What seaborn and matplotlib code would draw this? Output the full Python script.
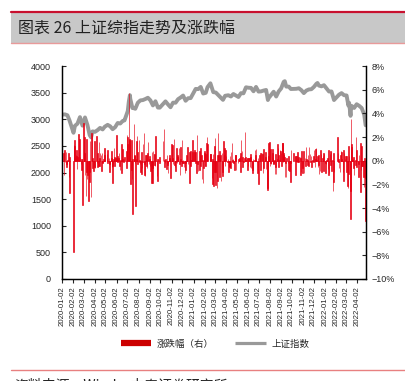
import pandas as pd
import matplotlib
matplotlib.use('Agg')
import matplotlib.pyplot as plt
from matplotlib.patches import Rectangle
from matplotlib.lines import Line2D
import seaborn as sns

# Shanghai Composite close
idx_dates = [
    '2020-01-02', '2020-01-10', '2020-01-17', '2020-01-23', '2020-02-03', '2020-02-07', '2020-02-14',
    '2020-02-21', '2020-02-28', '2020-03-06', '2020-03-13', '2020-03-19', '2020-03-23', '2020-03-27',
    '2020-04-03', '2020-04-10', '2020-04-17', '2020-04-24', '2020-04-30', '2020-05-08', '2020-05-15',
    '2020-05-22', '2020-05-29', '2020-06-05', '2020-06-12', '2020-06-19', '2020-06-24', '2020-07-03',
    '2020-07-06', '2020-07-09', '2020-07-10', '2020-07-16', '2020-07-17', '2020-07-24', '2020-07-31',
    '2020-08-07', '2020-08-14', '2020-08-21', '2020-08-28', '2020-09-04', '2020-09-11', '2020-09-18',
    '2020-09-25', '2020-09-30', '2020-10-16', '2020-10-23', '2020-10-30', '2020-11-06', '2020-11-13',
    '2020-11-20', '2020-11-27', '2020-12-04', '2020-12-11', '2020-12-18', '2020-12-25', '2020-12-31',
    '2021-01-08', '2021-01-15', '2021-01-22', '2021-01-29', '2021-02-05', '2021-02-10', '2021-02-18',
    '2021-02-26', '2021-03-05', '2021-03-12', '2021-03-19', '2021-03-25', '2021-03-31', '2021-04-09',
    '2021-04-16', '2021-04-23', '2021-04-30', '2021-05-07', '2021-05-14', '2021-05-21', '2021-05-28',
    '2021-06-04', '2021-06-11', '2021-06-18', '2021-06-25', '2021-07-02', '2021-07-09', '2021-07-16',
    '2021-07-23', '2021-07-28', '2021-07-30', '2021-08-06', '2021-08-13', '2021-08-20', '2021-08-27',
    '2021-09-03', '2021-09-10', '2021-09-13', '2021-09-17', '2021-09-24', '2021-09-30', '2021-10-15',
    '2021-10-22', '2021-10-29', '2021-11-05', '2021-11-12', '2021-11-19', '2021-11-26', '2021-12-03',
    '2021-12-10', '2021-12-13', '2021-12-17', '2021-12-24', '2021-12-31', '2022-01-07', '2022-01-14',
    '2022-01-21', '2022-01-28', '2022-02-11', '2022-02-18', '2022-02-25', '2022-03-04', '2022-03-09',
    '2022-03-11', '2022-03-15', '2022-03-16', '2022-03-18', '2022-03-25', '2022-04-01', '2022-04-08',
    '2022-04-15', '2022-04-22', '2022-04-25', '2022-04-26',
]
idx_close = [
    3085, 3092, 3075, 2976, 2746, 2876, 2917, 3040, 2880, 3034, 2887, 2702, 2660, 2772,
    2764, 2796, 2838, 2809, 2860, 2895, 2868, 2813, 2852, 2930, 2920, 2968, 2979, 3153,
    3332, 3451, 3384, 3210, 3214, 3197, 3310, 3354, 3360, 3380, 3404, 3355, 3260, 3338,
    3219, 3218, 3336, 3278, 3225, 3312, 3310, 3377, 3408, 3445, 3347, 3395, 3397, 3473,
    3570, 3566, 3607, 3483, 3496, 3603, 3675, 3509, 3502, 3453, 3405, 3364, 3441, 3451,
    3427, 3474, 3447, 3418, 3490, 3487, 3600, 3592, 3589, 3525, 3607, 3519, 3524, 3539,
    3550, 3361, 3397, 3458, 3517, 3427, 3522, 3581, 3703, 3715, 3613, 3613, 3568, 3572,
    3582, 3547, 3491, 3539, 3560, 3564, 3607, 3666, 3681, 3632, 3618, 3640, 3580, 3521,
    3522, 3361, 3462, 3491, 3451, 3447, 3256, 3309, 3064, 3171, 3251, 3212, 3282, 3252,
    3211, 3087, 2928, 2886,
]

# daily change in %, one list per year
chg_2020 = [
    1.15, -0.05, -0.01, 0.69, -1.22, 0.91, -0.08, 0.75, -0.28, -0.53, -0.03, 0.02, 0.66, -1.41, 0.33, -2.75,
    -7.72, 1.34, 1.25, 1.72, 0.33, 0.49, 0.39, 0.87, -0.71, 0.28, 2.28, 0.05, -0.05, 1.84, 0.31, -0.28, 0.11, -0.83, 0.11, -3.71,
    3.15, 0.75, 0.63, 1.99, -1.21, -3.01, 1.82, -0.94, -1.52, -1.23, -3.40, -0.34, -1.83, -0.98, 1.65, -3.11, 2.34, 2.17, -0.60, 0.25, -0.89, -0.10,
    -0.57, 1.69, -0.60, 2.05, -0.19, 0.61, -0.54, -0.49, 1.59, -0.48, 0.21, 0.66, 0.50, -0.90, 0.62, -0.15, -0.21, 0.13, 0.10, 0.46, 1.05,
    0.57, -0.23, 0.94, -0.05, 0.24, -0.30, -0.96, -0.07, 0.21, 0.80, -0.51, -0.48, -1.89, 0.10, 1.10, -0.41, 0.33, 0.22,
    2.21, 0.20, -0.07, -0.13, 0.40, 0.24, 0.62, -0.42, -0.78, 0.03, -1.02, 1.44, 0.14, 0.14, 0.96, -0.11, 0.17, 0.30, -0.64, 0.78,
    2.13, 2.01, 1.37, 5.71, 1.83, 1.74, 1.39, -1.95, 1.77, -0.83, -1.56, -4.50, 0.13, 3.11, 0.46, 0.42, -0.23, -3.86, 0.17, 1.66, 2.06, -0.24, 0.71,
    1.75, 0.06, -0.12, -0.26, -0.96, 0.75, -1.15, -0.60, -0.15, 1.40, 2.34, -0.27, -1.24, -1.27, 0.50, 0.44, -0.45, -0.66, 0.61, 1.60, -0.24,
    0.43, 0.12, -0.43, -0.88, -1.87, 0.73, -1.86, -0.61, 0.79, 0.56, 0.53, -0.36, -0.41, 2.07, -0.06, -1.29, 0.17, -1.72, 0.17, 0.06, 0.29, -0.20,
    1.68, 2.64, 0.04, -0.56, -0.19, 0.11, -0.71, 0.47, -0.23, -0.37, -1.04, 0.11, 0.47, 0.19, 0.12, -1.47,
    1.42, 0.19, 0.19, 1.30, -0.24, 1.86, -0.40, -0.53, -0.10, -0.86, 1.11, -0.21, 0.27, 0.47, 0.36, 1.09, -0.31, -1.19, 0.18, 1.14, -0.49,
    1.77, -0.21, -0.18, 0.07, -0.52, -0.19, -1.08, -0.20, -0.77, 0.49, 0.06, -0.04, 1.13, -0.29, 0.77, -1.86, 0.74, -0.45, 0.81, 0.08, -0.05, 0.74, 1.72,
]
chg_2021 = [
    0.86, 0.73, 0.63, 0.71, -0.17, -1.08, 2.18, -0.27, -0.91, 0.01, 0.82, -0.83, 0.47, 1.07, -0.41, 0.48, -1.51, 0.07, -1.91, -0.63,
    0.64, 0.82, -0.46, -0.44, 0.55, 1.49, 1.99, 1.43, 0.57, 0.57, -1.45, 0.16, -1.99, 0.59, -2.12,
    1.21, -0.93, 1.95, -2.05, -0.96, -2.30, -1.76, 0.50, 2.36, 0.46, -1.42, 0.83, 0.35, 0.51, -1.69, 0.68, -0.93, -1.30, -0.04, 1.63, 0.45, 1.11, -0.43,
    0.86, 0.37, -0.01, -0.10, 0.11, -0.92, -0.50, -0.47, 0.38, -0.65, 0.75, 1.49, -0.13, 0.04, 0.18, -0.21, -0.83, 0.28, 0.44, 0.52, -0.81,
    -0.16, 0.16, 0.26, 0.42, 0.61, -0.96, 1.77, 0.78, 0.34, -0.51, -0.13, -0.09, 0.19, 2.40, 0.29, 0.03, 0.07, 0.26,
    0.26, -0.76, -0.41, 0.21, 0.21, -0.54, 0.32, 0.54, -0.58, -0.83, -1.07, 0.10, -0.01, 0.04, 0.92, 0.49, 0.05, 0.95, -0.08, -1.07, 0.22,
    -0.02, -1.95, 0.44, -0.06, 0.67, -0.79, 0.67, 0.67, 0.53, -1.07, 1.02, -0.60, -0.01, -0.07, 0.72, 0.27, -0.71, -2.34, -2.49, -0.58, 1.49, 0.42,
    1.57, -0.47, 0.97, -0.20, -0.30, 1.00, 0.65, 0.23, -0.28, -0.18, 0.07, -1.11, 0.54, -0.57, -1.10, 1.45, 0.12, 1.06, -0.57, 0.49, 0.02, 0.92,
    0.84, 0.69, -0.42, 1.49, 1.51, -0.08, 0.51, 0.63, 0.28, -1.42, -0.17, -1.34, 0.19, -0.17, 0.40, -0.80, -0.84, -1.83, -0.18, 0.90,
    0.67, 0.40, -1.25, 0.42, -0.10, 0.40, -0.10, 0.71, 0.22, -0.08, 0.29, 0.30, 0.19, -1.23, -0.97, 0.82,
    -0.66, -1.08, -0.20, 0.81, -1.00, 0.20, -0.04, -0.41, 1.15, 0.18, 0.07, -0.33, 0.44, -0.47, 1.13, 0.57, -0.10, -0.07, 0.40, -0.56, -0.04, 0.03,
    0.37, -0.09, 0.89, -0.50, 0.16, 0.99, 1.03, 0.08, 0.40, -0.51, -0.39, 0.48, -1.16, -0.91, 0.92, -0.07, 0.57, -0.92, 0.20, 0.41, -0.91, 0.62, 0.57,
]
chg_2022 = [
    -0.20, -1.02, -0.25, 0.08, 0.24, -0.73, 0.94, -1.17, -1.04, 0.58, 0.80, -0.33, 0.77, -0.91, 0.04, -2.58, 0.66, -1.78, -0.97,
    2.02, 0.68, -0.08, 0.17, -0.66, -0.98, 0.50, 0.79, 0.14, 0.70, -0.02, -0.96, 0.88, -1.70, 0.63, 0.18,
    0.37, -0.13, 0.42, -0.96, -2.17, -2.35, -1.13, 1.22, 0.41, -2.60, -4.95, 3.48, 1.40, 1.12, 0.08, 0.18, 0.34, -0.63, -1.20, 0.08, -0.33, 1.96, -0.51,
    0.94, -0.28, -1.42, 0.47, -2.61, 1.46, -0.82, 1.22, -0.45, -0.49, -0.05, -1.35, -2.26, 0.23, -5.13, -1.44, 2.49,
]

# exchange holidays on weekdays
holidays = [
    '2020-01-24', '2020-01-27', '2020-01-28', '2020-01-29', '2020-01-30', '2020-01-31',
    '2020-04-06', '2020-05-01', '2020-05-04', '2020-05-05', '2020-06-25', '2020-06-26',
    '2020-10-01', '2020-10-02', '2020-10-05', '2020-10-06', '2020-10-07', '2020-10-08',
    '2021-01-01', '2021-02-11', '2021-02-12', '2021-02-15', '2021-02-16', '2021-02-17',
    '2021-04-05', '2021-05-03', '2021-05-04', '2021-05-05', '2021-06-14', '2021-09-20',
    '2021-09-21', '2021-10-01', '2021-10-04', '2021-10-05', '2021-10-06', '2021-10-07',
    '2022-01-03', '2022-01-31', '2022-02-01', '2022-02-02', '2022-02-03', '2022-02-04',
    '2022-04-04', '2022-04-05',
]

tick_labels = [f'{y}-{m:02d}-02' for y in (2020, 2021, 2022) for m in range(1, 13)][:28]

days = pd.bdate_range('2020-01-02', '2022-04-27')
days = days[~days.isin(pd.to_datetime(holidays))]
parts = []
for year, chg in ((2020, chg_2020), (2021, chg_2021), (2022, chg_2022)):
    d = days[days.year == year]
    n = min(len(d), len(chg))
    parts.append(pd.DataFrame({'date': d[:n], 'chg': chg[:n]}))
bars = pd.concat(parts, ignore_index=True)
line = pd.DataFrame({'date': pd.to_datetime(idx_dates), 'close': idx_close})

sns.set_style('white')
plt.rcParams['font.family'] = ['Liberation Sans', 'Noto Sans CJK SC', 'DejaVu Sans']
cjk = ['Noto Sans CJK SC', 'DejaVu Sans']

fig = plt.figure(figsize=(4.06, 3.81), dpi=100)
ax = fig.add_axes([62 / 406, 1 - 279 / 381, 304 / 406, 213 / 381])
ax2 = ax.twinx()

sns.lineplot(data=line, x='date', y='close', ax=ax, color='#999999', linewidth=2.8)
ax2.bar(bars['date'], bars['chg'], width=1.8, color='#e60012', linewidth=0.45, edgecolor='#e60012')

ax.set_ylim(0, 4000)
ax.set_yticks(range(0, 4001, 500))
ax2.set_ylim(-10, 8)
ax2.set_yticks(range(-10, 9, 2))
ax2.set_yticklabels([f'{v}%'.replace('-', '\u2212') for v in range(-10, 9, 2)])
ax.set_xlim(pd.Timestamp('2020-01-02'), pd.Timestamp('2022-04-27'))
ax.set_xticks(pd.to_datetime(tick_labels))
ax.set_xticklabels(tick_labels, rotation=90)
ax.set_xlabel('')
ax.set_ylabel('')

for a in (ax, ax2):
    for s in a.spines.values():
        s.set_color('black')
        s.set_linewidth(0.9)
    a.spines['top'].set_visible(False)
ax.tick_params(axis='y', direction='in', length=3, width=0.8, labelsize=6.5, pad=8, left=True)
ax.tick_params(axis='x', direction='out', length=3, width=0.8, labelsize=5.6, pad=2, bottom=True)
ax2.tick_params(axis='y', direction='in', length=3, width=0.8, labelsize=6.5, pad=4, right=True)

# title band
fig.patches.append(Rectangle((11 / 406, 1 - 43 / 381), 1, 31 / 381, transform=fig.transFigure,
                             facecolor='#c8c8c8', edgecolor='none', zorder=0))
fig.add_artist(Line2D([11 / 406, 1], [1 - 11.5 / 381] * 2, color='#c8102e', linewidth=1.6))
fig.add_artist(Line2D([11 / 406, 1], [1 - 43 / 381] * 2, color='#e89a9a', linewidth=1.0))
fig.text(18 / 406, 1 - 28 / 381, '图表 26 上证综指走势及涨跌幅', family=cjk, fontsize=11.5,
         va='center', ha='left', color='#222222')

# legend
handles = [Line2D([], [], color='#cc0000', linewidth=4.5, solid_capstyle='butt'),
           Line2D([], [], color='#999999', linewidth=2.3, solid_capstyle='butt')]
fig.legend(handles, ['涨跌幅（右）', '上证指数'], loc='center', bbox_to_anchor=(215 / 406, 1 - 344 / 381),
           ncol=2, frameon=False, prop={'family': cjk, 'size': 6.8}, handlelength=3.2,
           columnspacing=2.3, handletextpad=0.6)

# source footer (cut by the bottom edge, as in the source image)
fig.add_artist(Line2D([11 / 406, 1], [1 - 370 / 381] * 2, color='#e88080', linewidth=1.0))
fig.text(14 / 406, 1 - 378 / 381, '资料来源：Wind，中泰证券研究所', family=cjk, fontsize=10,
         va='top', ha='left', color='#222222')

fig.savefig('out.png', dpi=100)
